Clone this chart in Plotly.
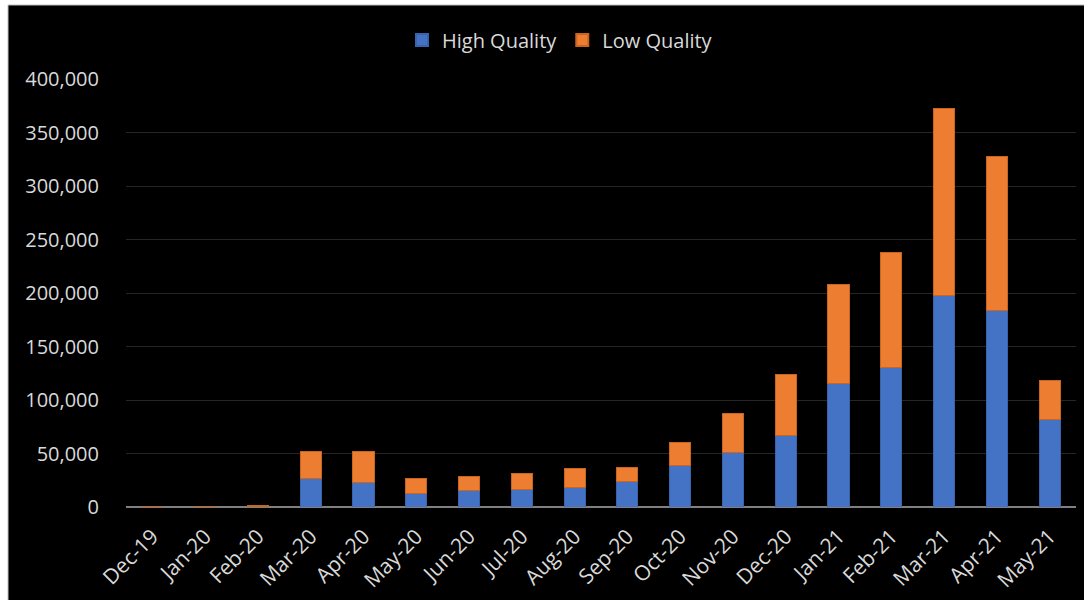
import plotly.graph_objects as go

# Monthly counts split by quality tier
months = ["Dec-19", "Jan-20", "Feb-20", "Mar-20", "Apr-20", "May-20", "Jun-20",
          "Jul-20", "Aug-20", "Sep-20", "Oct-20", "Nov-20", "Dec-20", "Jan-21",
          "Feb-21", "Mar-21", "Apr-21", "May-21"]
high_quality = [200, 200, 400, 26800, 22700, 12800, 15000, 16500, 18000, 24000,
                38600, 50800, 66600, 115000, 130000, 197800, 183500, 81600]
low_quality = [400, 300, 900, 25500, 29300, 14000, 13300, 14600, 17800, 13100,
               21800, 36700, 57400, 93400, 107600, 175000, 143900, 36800]
y_ticks = [0, 50000, 100000, 150000, 200000, 250000, 300000, 350000, 400000]

W, H = 1084, 600
M_L, M_R, M_T, M_B = 126, 8, 79, 93
plot_w = W - M_L - M_R
plot_h = H - M_T - M_B

def px_x(px):
    return (px - M_L) / plot_w

def px_y(py):
    return (H - M_B - py) / plot_h

FONT = "Open Sans"
TEXT = "#d9d9d9"

fig = go.Figure()
fig.add_trace(go.Bar(
    x=months, y=high_quality, name="High Quality",
    marker=dict(color="#4472C4", line=dict(color="#3a63ad", width=1)),
))
fig.add_trace(go.Bar(
    x=months, y=low_quality, name="Low Quality",
    marker=dict(color="#ED7D31", line=dict(color="#c9651f", width=1)),
))

# dark chart card inset from the white page edge
fig.add_shape(
    type="rect", xref="paper", yref="paper", layer="below",
    x0=px_x(8), x1=px_x(W + 2), y0=px_y(H + 2), y1=px_y(5),
    fillcolor="#000000", line=dict(color="#bfbfbf", width=1),
)

fig.update_layout(
    width=W, height=H,
    margin=dict(l=M_L, r=M_R, t=M_T, b=M_B, pad=0),
    barmode="stack", bargap=0.6,
    paper_bgcolor="#ffffff", plot_bgcolor="#000000",
    font=dict(family=FONT, size=20, color=TEXT),
    legend=dict(
        orientation="h", x=px_x(560), xanchor="center", y=px_y(40), yanchor="middle",
        font=dict(family=FONT, size=20, color=TEXT), bgcolor="rgba(0,0,0,0)",
        itemsizing="constant", traceorder="normal",
    ),
    showlegend=True,
)
fig.update_yaxes(
    range=[0, 400000], tickvals=y_ticks, tickformat=",",
    showgrid=True, gridcolor="#262626", gridwidth=1,
    zeroline=True, zerolinecolor="#808080", zerolinewidth=2,
    showline=False, ticks="", ticklabelstandoff=26,
    tickfont=dict(family=FONT, size=20, color=TEXT),
)
fig.update_xaxes(
    tickangle=-45, showgrid=False, showline=False, ticks="",
    ticklabelstandoff=12,
    tickfont=dict(family=FONT, size=21, color=TEXT),
)

fig.write_html("out.html")
